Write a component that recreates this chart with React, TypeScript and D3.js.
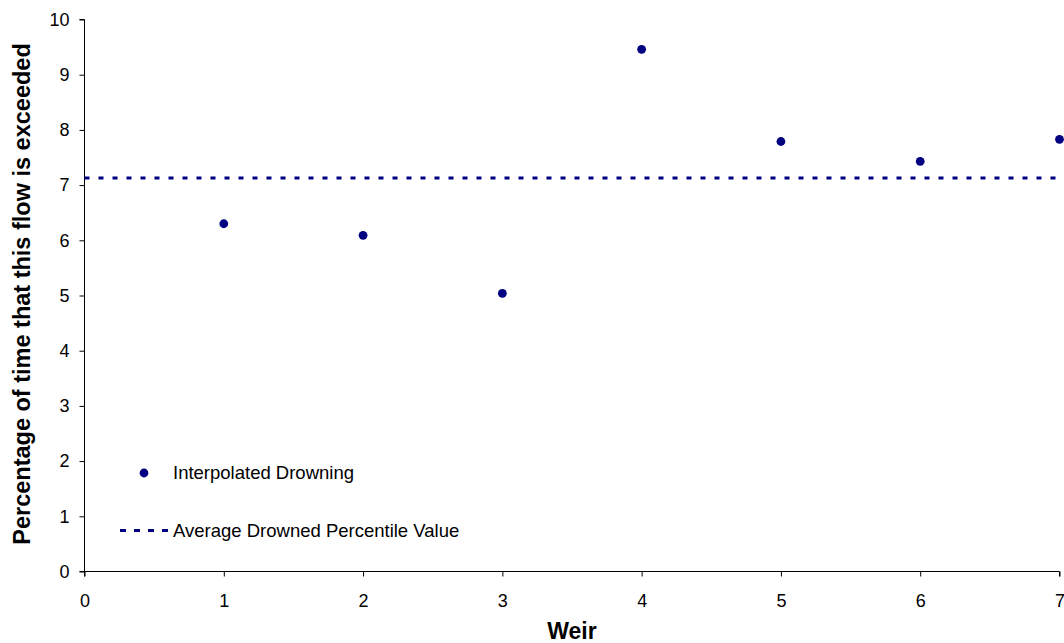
import React, { useEffect, useRef } from "react";
import * as d3 from "d3";

const weirs = [1, 2, 3, 4, 5, 6, 7];
const drowning = [6.3, 6.09, 5.04, 9.46, 7.79, 7.43, 7.83];
const averageValue = 7.13;
const xTicks = [0, 1, 2, 3, 4, 5, 6, 7];
const yTicks = [0, 1, 2, 3, 4, 5, 6, 7, 8, 9, 10];
const seriesNames = ["Interpolated Drowning", "Average Drowned Percentile Value"];

const W = 1064;
const H = 643;
const NAVY = "#000080";
const FONT = "'Liberation Sans', Arial, sans-serif";

export default function App() {
  const ref = useRef<SVGSVGElement>(null);

  useEffect(() => {
    const svg = d3.select(ref.current);
    svg.selectAll("*").remove();

    const x = d3.scaleLinear().domain([0, 7]).range([84.5, 1059.5]);
    const y = d3.scaleLinear().domain([0, 10]).range([571.5, 19.5]);

    // axes
    const gx = svg.append("g").attr("transform", `translate(0,${y(0)})`)
      .call(d3.axisBottom(x).tickValues(xTicks).tickSize(5).tickPadding(18).tickFormat(d3.format("d")));
    const gy = svg.append("g").attr("transform", `translate(${x(0)},0)`)
      .call(d3.axisLeft(y).tickValues(yTicks).tickSize(5).tickPadding(10).tickFormat(d3.format("d")));
    [gx, gy].forEach((g) => {
      g.select(".domain").attr("stroke", "#000").attr("stroke-width", 1);
      g.selectAll(".tick line").attr("stroke", "#000");
      g.selectAll(".tick text").attr("fill", "#000").style("font-family", FONT).style("font-size", "18px");
    });
    gx.select(".domain").attr("d", `M${x(0)},5V0H${x(7)}V5`);
    gy.select(".domain").attr("d", `M-5,${y(10)}H0V${y(0)}H-5`);

    // average line
    svg.append("line")
      .attr("x1", x(0)).attr("x2", x(7))
      .attr("y1", y(averageValue)).attr("y2", y(averageValue))
      .attr("stroke", NAVY).attr("stroke-width", 3).attr("stroke-dasharray", "5,9");

    // points
    svg.append("g").selectAll("circle").data(weirs).join("circle")
      .attr("cx", (d) => x(d))
      .attr("cy", (d, i) => y(drowning[i]))
      .attr("r", 4.4)
      .attr("fill", NAVY);

    // axis titles
    svg.append("text")
      .attr("x", 572).attr("y", 639)
      .attr("text-anchor", "middle")
      .style("font-family", FONT).style("font-size", "23px").style("font-weight", "bold")
      .text("Weir");
    svg.append("text")
      .attr("transform", "translate(30,294) rotate(-90)")
      .attr("text-anchor", "middle")
      .style("font-family", FONT).style("font-size", "23.5px").style("font-weight", "bold")
      .text("Percentage of time that this flow is exceeded");

    // legend
    const lg = svg.append("g");
    lg.append("circle").attr("cx", 144).attr("cy", 473).attr("r", 4.4).attr("fill", NAVY);
    lg.append("text").attr("x", 173).attr("y", 479)
      .style("font-family", FONT).style("font-size", "18.5px").text(seriesNames[0]);
    lg.append("line").attr("x1", 120).attr("x2", 168).attr("y1", 530.5).attr("y2", 530.5)
      .attr("stroke", NAVY).attr("stroke-width", 3).attr("stroke-dasharray", "6,8");
    lg.append("text").attr("x", 173).attr("y", 537)
      .style("font-family", FONT).style("font-size", "18.5px").text(seriesNames[1]);
  }, []);

  return (
    <svg ref={ref} width={W} height={H}
      style={{ position: "absolute", left: 0, top: 0, background: "#fff" }} />
  );
}
